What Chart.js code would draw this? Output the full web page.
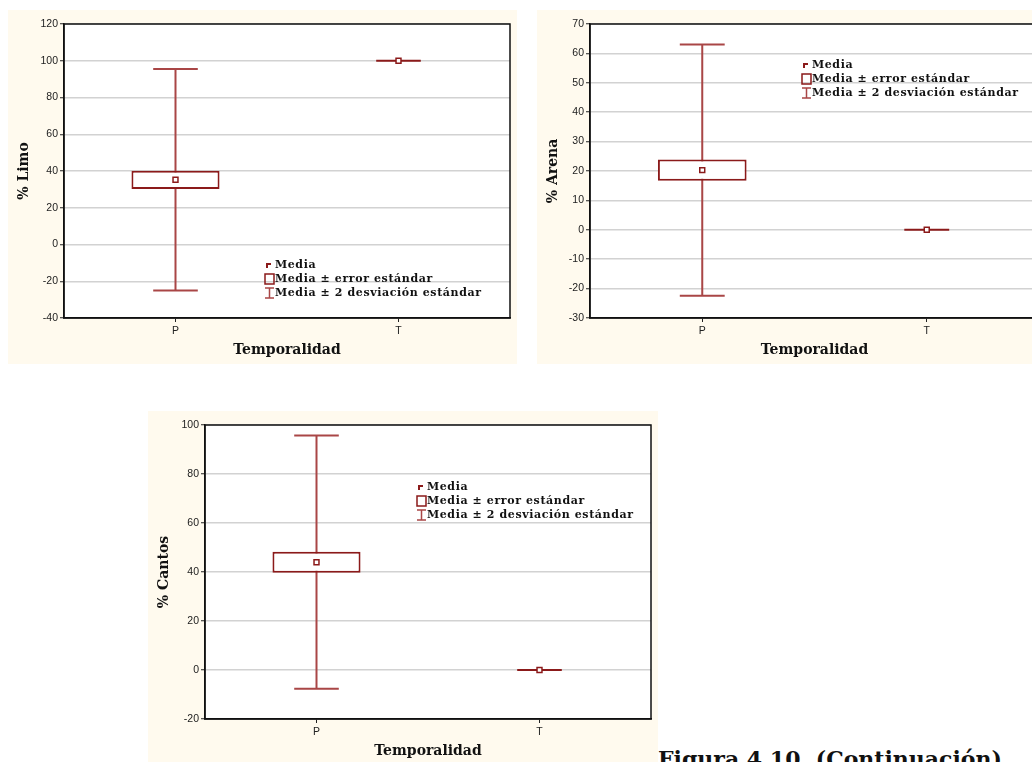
<!DOCTYPE html>
<html lang="es">
<head>
<meta charset="UTF-8">
<title>Temporalidad - Limo, Arena, Cantos</title>
<script src="https://cdn.jsdelivr.net/npm/chart.js"></script>
<style>
    html, body { margin: 0; padding: 0; width: 1032px; height: 762px; overflow: hidden; background: #fff; }
    canvas { position: absolute; }
    #c1 { left: 8px; top: 10px; }
    #c2 { left: 537px; top: 10px; }
    #c3 { left: 148px; top: 411px; }
    #caption {
        position: absolute; left: 658px; top: 744px; white-space: nowrap;
        font: bold 22px "DejaVu Serif", serif; color: #111; line-height: 30px;
    }
</style>
</head>
<body>
<canvas id="c1" width="509" height="354"></canvas>
<canvas id="c2" width="509" height="354"></canvas>
<canvas id="c3" width="510" height="354"></canvas>
<div id="caption">Figura 4.10. (Continuación)</div>

<script>
    // datos
    const categorias = ['P', 'T'];

    const limoMedia = [35.2, 100];
    const limoError = [5.0, 0];
    const limoDosDE = [60.3, 0];
    const limoTicks = [-40, -20, 0, 20, 40, 60, 80, 100, 120];

    const arenaMedia = [20.3, 0];
    const arenaError = [3.6, 0];
    const arenaDosDE = [42.7, 0];
    const arenaTicks = [-30, -20, -10, 0, 10, 20, 30, 40, 50, 60, 70];

    const cantosMedia = [44.0, 0];
    const cantosError = [4.3, 0];
    const cantosDosDE = [51.7, 0];
    const cantosTicks = [-20, 0, 20, 40, 60, 80, 100];

    const leyenda = ['Media', 'Media \u00B1 error estándar', 'Media \u00B1 2 desviación estándar'];

    const ROJO = '#8b1a1a';
    const ROJO_CLARO = '#a94646';
    const CREMA = '#fffaee';
    const SERIF = '"DejaVu Serif", serif';

    // fondo crema + area blanca + marco + bigotes + leyenda
    const pluginCaja = {
        id: 'pluginCaja',
        beforeDraw(chart) {
            const ctx = chart.ctx;
            const a = chart.chartArea;
            ctx.save();
            ctx.fillStyle = CREMA;
            ctx.fillRect(0, 0, chart.width, chart.height);
            ctx.fillStyle = '#fff';
            ctx.fillRect(a.left, a.top, a.right - a.left, a.bottom - a.top);
            ctx.restore();
        },
        beforeDatasetsDraw(chart, args, opts) {
            const ctx = chart.ctx;
            const x = chart.scales.x, y = chart.scales.y;
            const anchoCat = x.width / categorias.length;
            const medio = anchoCat * 0.1;
            ctx.save();
            ctx.lineWidth = 2;
            opts.media.forEach((m, i) => {
                const px = x.getPixelForValue(i);
                const top = y.getPixelForValue(m + opts.dosDE[i]);
                const bot = y.getPixelForValue(m - opts.dosDE[i]);
                ctx.strokeStyle = opts.dosDE[i] === 0 ? ROJO : ROJO_CLARO;
                ctx.beginPath();
                ctx.moveTo(px, top); ctx.lineTo(px, bot);
                ctx.moveTo(px - medio, top); ctx.lineTo(px + medio, top);
                ctx.moveTo(px - medio, bot); ctx.lineTo(px + medio, bot);
                ctx.stroke();
            });
            ctx.restore();
        },
        afterDraw(chart, args, opts) {
            const ctx = chart.ctx;
            const a = chart.chartArea;
            ctx.save();
            ctx.strokeStyle = '#111';
            ctx.lineWidth = 1.5;
            ctx.strokeRect(a.left, a.top, a.right - a.left, a.bottom - a.top);

            // leyenda
            const lx = a.left + opts.leyendaX;
            let ly = a.top + opts.leyendaY;
            ctx.font = 'bold 11px ' + SERIF;
            ctx.letterSpacing = '0.6px';
            ctx.textBaseline = 'middle';
            ctx.fillStyle = '#111';
            leyenda.forEach((t, i) => {
                const cy = ly + i * 14;
                ctx.strokeStyle = i === 2 ? ROJO_CLARO : ROJO;
                ctx.lineWidth = i === 0 ? 2 : 1.5;
                ctx.beginPath();
                if (i === 0) {
                    ctx.moveTo(lx + 2, cy + 3); ctx.lineTo(lx + 2, cy - 1); ctx.lineTo(lx + 6, cy - 1);
                } else if (i === 1) {
                    ctx.rect(lx, cy - 5, 9, 10);
                } else {
                    ctx.moveTo(lx + 4.5, cy - 5); ctx.lineTo(lx + 4.5, cy + 5);
                    ctx.moveTo(lx, cy - 5); ctx.lineTo(lx + 9, cy - 5);
                    ctx.moveTo(lx, cy + 5); ctx.lineTo(lx + 9, cy + 5);
                }
                ctx.stroke();
                ctx.fillText(t, lx + 10, cy);
            });
            ctx.restore();
        }
    };

    function crearGrafico(id, titulo, media, error, dosDE, ticks, anchoEje, leyX, leyY) {
        const caja = media.map((m, i) => error[i] > 0 ? [m - error[i], m + error[i]] : null);
        return new Chart(document.getElementById(id), {
            type: 'bar',
            data: {
                labels: categorias,
                datasets: [
                    {
                        type: 'line',
                        data: media,
                        showLine: false,
                        pointStyle: 'rect',
                        pointRadius: 3.5,
                        pointBorderWidth: 1.5,
                        pointBackgroundColor: '#fff',
                        pointBorderColor: ROJO,
                        order: 0
                    },
                    {
                        data: caja,
                        backgroundColor: '#fff',
                        borderColor: ROJO,
                        borderWidth: 2,
                        borderSkipped: false,
                        categoryPercentage: 1,
                        barPercentage: 0.395,
                        order: 1
                    }
                ]
            },
            options: {
                responsive: false,
                animation: false,
                devicePixelRatio: 1,
                layout: { padding: { top: 14, right: 7, left: 0, bottom: 0 } },
                plugins: {
                    legend: { display: false },
                    tooltip: { enabled: false },
                    pluginCaja: { media: media, dosDE: dosDE, leyendaX: leyX, leyendaY: leyY }
                },
                scales: {
                    x: {
                        grid: { offset: false, drawOnChartArea: false, tickLength: 4, color: '#222' },
                        border: { color: '#111', width: 1.5 },
                        ticks: { padding: 3, color: '#222', font: { family: '"Liberation Sans", Arial', size: 10.5 } },
                        title: {
                            display: true, text: 'Temporalidad', color: '#111',
                            font: { family: SERIF, size: 14, weight: 'bold' },
                            padding: { top: 0, bottom: 5 }
                        },
                        afterFit(s) { s.height = 46; }
                    },
                    y: {
                        min: ticks[0],
                        max: ticks[ticks.length - 1],
                        ticks: {
                            stepSize: ticks[1] - ticks[0], padding: 2, color: '#222',
                            font: { family: '"Liberation Sans", Arial', size: 10.5 }
                        },
                        grid: { color: '#d2d2d2', lineWidth: 1.5, tickLength: 4, tickColor: '#222', tickWidth: 1 },
                        border: { color: '#111', width: 1.5 },
                        title: {
                            display: true, text: titulo, color: '#111',
                            font: { family: SERIF, size: 14, weight: 'bold' },
                            padding: { top: 8, bottom: 0 }
                        },
                        afterFit(s) { s.width = anchoEje; }
                    }
                }
            },
            plugins: [pluginCaja]
        });
    }

    crearGrafico('c1', '% Limo', limoMedia, limoError, limoDosDE, limoTicks, 56, 201, 241);
    crearGrafico('c2', '% Arena', arenaMedia, arenaError, arenaDosDE, arenaTicks, 53, 212, 41);
    crearGrafico('c3', '% Cantos', cantosMedia, cantosError, cantosDosDE, cantosTicks, 57, 212, 62);
</script>
</body>
</html>
